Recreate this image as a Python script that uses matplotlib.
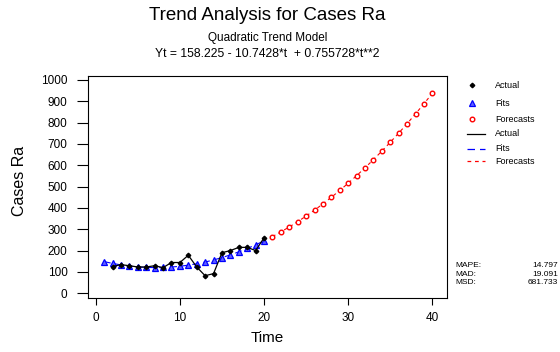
import matplotlib
matplotlib.use("Agg")
import matplotlib.pyplot as plt
from matplotlib.lines import Line2D

plt.rcParams['font.family'] = ['Liberation Sans', 'DejaVu Sans']

# Data
t_actual = list(range(2, 21))
actual = [125, 134, 129, 123, 123, 129, 120, 144, 144, 178, 123, 82, 92, 190, 200, 215, 215, 200, 260]
t_fits = list(range(1, 21))
fits = [148.24, 139.76, 132.80, 127.35, 123.40, 120.97, 120.06, 120.65, 122.75, 126.37,
        131.50, 138.14, 146.29, 155.95, 167.12, 179.81, 194.00, 209.71, 226.93, 245.66]
t_fc = list(range(21, 41))
forecasts = [265.90, 287.66, 310.92, 335.70, 361.99, 389.78, 419.09, 449.92, 482.25, 516.10,
             551.45, 588.32, 626.70, 666.59, 707.99, 750.91, 795.33, 841.27, 888.72, 937.68]
xticks = [0, 10, 20, 30, 40]
yticks = [0, 100, 200, 300, 400, 500, 600, 700, 800, 900, 1000]
stat_names = ["MAPE:", "MAD:", "MSD:"]
stat_vals = ["14.797", "19.091", "681.733"]

W, H = 560, 352
fig = plt.figure(figsize=(W / 100, H / 100), dpi=100)
ax = fig.add_axes([88.3 / W, 1 - 297.7 / H, (446.7 - 88.3) / W, (297.7 - 75.7) / H])

ax.plot(t_fits, fits, color='blue', lw=0.8, ls=(0, (6, 4)), zorder=2)
ax.plot(t_fits, fits, ls='none', marker='^', ms=4.5, mfc='#6060ff', mec='blue', mew=0.9, zorder=3)
ax.plot(t_fc, forecasts, color='red', lw=0.8, ls=(0, (3, 3)), zorder=2)
ax.plot(t_fc, forecasts, ls='none', marker='o', ms=3.3, mfc='white', mec='red', mew=1.0, zorder=3)
ax.plot(t_actual, actual, color='black', lw=0.9, zorder=4)
ax.plot(t_actual, actual, ls='none', marker='D', ms=2.3, color='black', zorder=5)

ax.set_xlim(-0.88, 41.7)
ax.set_ylim(-21, 1020)
ax.set_xticks(xticks)
ax.set_yticks(yticks)
ax.tick_params(axis='y', direction='out', length=8, width=0.8, pad=7, labelsize=8.5)
ax.tick_params(axis='x', direction='out', length=5, width=0.8, pad=5, labelsize=8.5)
for s in ax.spines.values():
    s.set_linewidth(0.8)

fig.text(267.5 / W, 1 - 337.5 / H, "Time", ha='center', va='center', fontsize=11)
fig.text(19 / W, 1 - 181 / H, "Cases Ra", ha='center', va='center', rotation=90, fontsize=11.5)

fig.text(267.5 / W, 1 - 16 / H, "Trend Analysis for Cases Ra", ha='center', va='center', fontsize=13.5)
fig.text(267.5 / W, 1 - 38.5 / H, "Quadratic Trend Model", ha='center', va='center', fontsize=8.5)
fig.text(267.5 / W, 1 - 54 / H, "Yt = 158.225 - 10.7428*t  + 0.755728*t**2", ha='center', va='center', fontsize=8.7)

# Legend (manual)
def fx(x):
    return x / W
def fy(y):
    return 1 - y / H

leg_rows = [85, 103, 119, 133.5, 148.5, 161]
labels = ["Actual", "Fits", "Forecasts", "Actual", "Fits", "Forecasts"]
tx = 495
mx = 472
fig.add_artist(Line2D([fx(mx)], [fy(leg_rows[0])], marker='D', ms=2.3, color='black', ls='none', transform=fig.transFigure))
fig.add_artist(Line2D([fx(mx)], [fy(leg_rows[1])], marker='^', ms=4, mfc='#6060ff', mec='blue', mew=0.9, ls='none', transform=fig.transFigure))
fig.add_artist(Line2D([fx(mx)], [fy(leg_rows[2])], marker='o', ms=3.3, mfc='white', mec='red', mew=1.0, ls='none', transform=fig.transFigure))
fig.add_artist(Line2D([fx(466.7), fx(485)], [fy(leg_rows[3])] * 2, color='black', lw=0.9, transform=fig.transFigure))
fig.add_artist(Line2D([fx(466.7), fx(485)], [fy(leg_rows[4])] * 2, color='blue', lw=0.9, ls=(0, (6, 4)), transform=fig.transFigure))
fig.add_artist(Line2D([fx(466.7), fx(485)], [fy(leg_rows[5])] * 2, color='red', lw=0.9, ls=(0, (3, 3)), transform=fig.transFigure))
for yv, lab in zip(leg_rows, labels):
    fig.text(fx(tx), fy(yv), lab, ha='left', va='center', fontsize=6.5)

stat_rows = [265.7, 274.2, 282.7]
for yv, n, v in zip(stat_rows, stat_names, stat_vals):
    fig.text(fx(455), fy(yv), n, ha='left', va='center', fontsize=6)
    fig.text(fx(558), fy(yv), v, ha='right', va='center', fontsize=6)

fig.savefig("out.png", dpi=100)
